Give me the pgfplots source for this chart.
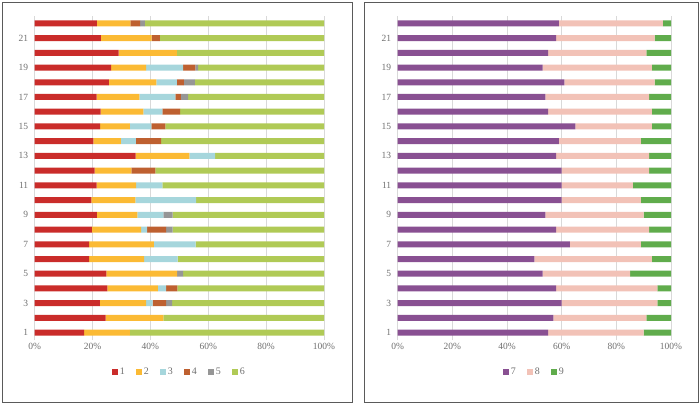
\documentclass[border=0pt]{standalone}
\usepackage{pgfplots}
\usepackage{pgfplotstable}
\pgfplotsset{compat=1.18}
\usepackage{fontspec}
\setmainfont{Liberation Serif}
\definecolor{cA}{RGB}{202,44,42}
\definecolor{cB}{RGB}{251,186,52}
\definecolor{cC}{RGB}{166,214,220}
\definecolor{cD}{RGB}{190,96,48}
\definecolor{cE}{RGB}{150,150,150}
\definecolor{cF}{RGB}{176,202,86}
\definecolor{cG}{RGB}{137,80,146}
\definecolor{cH}{RGB}{242,194,183}
\definecolor{cI}{RGB}{96,172,76}
\definecolor{tk}{RGB}{110,110,110}
\definecolor{grd}{RGB}{217,217,217}
\definecolor{frm}{RGB}{90,90,90}
\pgfplotstableread{
y a b c d e f
1 17.1 15.8 0 0 0 67.1
2 24.5 20.0 0 0 0 55.5
3 22.5 16.0 2.3 4.6 2.1 52.5
4 25.1 17.5 2.8 3.9 0 50.7
5 24.8 24.4 0 0 2.1 48.7
6 18.8 19.0 11.6 0 0 50.6
7 18.8 22.4 14.4 0 0 44.4
8 19.8 17.0 2.1 6.5 2.3 52.3
9 21.5 14.0 9.0 0 3.2 52.3
10 19.6 15.2 21.0 0 0 44.2
11 21.4 13.7 9.0 0 0 55.9
12 20.7 12.7 0 8.3 0 58.3
13 34.9 18.6 8.9 0 0 37.6
14 20.3 9.5 5.2 8.7 0 56.3
15 22.6 10.3 7.4 4.9 0 54.8
16 22.8 14.8 6.5 6.2 0 49.7
17 21.4 14.8 12.4 1.9 2.5 47.0
18 25.6 16.5 7.0 2.5 3.8 44.6
19 26.4 12.1 12.8 4.2 1.0 43.5
20 29.0 20.1 0 0 0 50.9
21 22.9 17.5 0 2.9 0 56.7
22 21.5 11.6 0 3.3 1.7 61.9
}\left
\pgfplotstableread{
y g h i
1 55 35 10
2 57 34 9
3 60 35 5
4 58 37 5
5 53 32 15
6 50 43 7
7 63 26 11
8 58 34 8
9 54 36 10
10 60 29 11
11 60 26 14
12 60 32 8
13 58 34 8
14 59 30 11
15 65 28 7
16 55 38 7
17 54 38 8
18 61 33 6
19 53 40 7
20 55 36 9
21 58 36 6
22 59 38 3
}\right
\pgfplotsset{
  mystyle/.style={
    xbar stacked,
    scale only axis,
    height=324bp,
    bar width=6bp,
    xmin=0, xmax=100,
    ymin=0.5, ymax=22.5,
    xtick={0,20,...,100},
    ytick={1,3,...,21},
    xticklabel={\pgfmathprintnumber{\tick}\%},
    /pgf/number format/assume math mode=true,
    xmajorgrids,
    grid style={grd, line width=0.8bp},
    axis line style={draw=none},
    major tick style={draw=none},
    ticklabel style={font=\fontsize{9.5}{11}\selectfont, text=tk},
    yticklabel style={xshift=-3bp},
    legend style={at={(0.5,-0.1)}, anchor=center, draw=none, fill=none,
      legend columns=-1, font=\fontsize{10}{12}\selectfont, text=tk,
      /tikz/every even column/.append style={column sep=9bp}},
    legend cell align=left,
    legend image code/.code={\fill[##1] (0bp,-3bp) rectangle (6bp,3bp);},
  }
}
\begin{document}
\begin{tikzpicture}[x=1bp,y=1bp]
\useasboundingbox (0,0) rectangle (700,405);
\draw[frm, line width=0.9bp] (2,3) rectangle (352,403);
\draw[frm, line width=0.9bp] (364.5,3) rectangle (698,403);
\begin{axis}[mystyle, width=289.3bp, at={(34.7bp,65bp)}, anchor=south west]
\addplot[fill=cA, draw=none] table[x=a, y=y] {\left};
\addplot[fill=cB, draw=none] table[x=b, y=y] {\left};
\addplot[fill=cC, draw=none] table[x=c, y=y] {\left};
\addplot[fill=cD, draw=none] table[x=d, y=y] {\left};
\addplot[fill=cE, draw=none] table[x=e, y=y] {\left};
\addplot[fill=cF, draw=none] table[x=f, y=y] {\left};
\legend{1,2,3,4,5,6}
\end{axis}
\begin{axis}[mystyle, width=273.3bp, at={(397.7bp,65bp)}, anchor=south west]
\addplot[fill=cG, draw=none] table[x=g, y=y] {\right};
\addplot[fill=cH, draw=none] table[x=h, y=y] {\right};
\addplot[fill=cI, draw=none] table[x=i, y=y] {\right};
\legend{7,8,9}
\end{axis}
\end{tikzpicture}
\end{document}
